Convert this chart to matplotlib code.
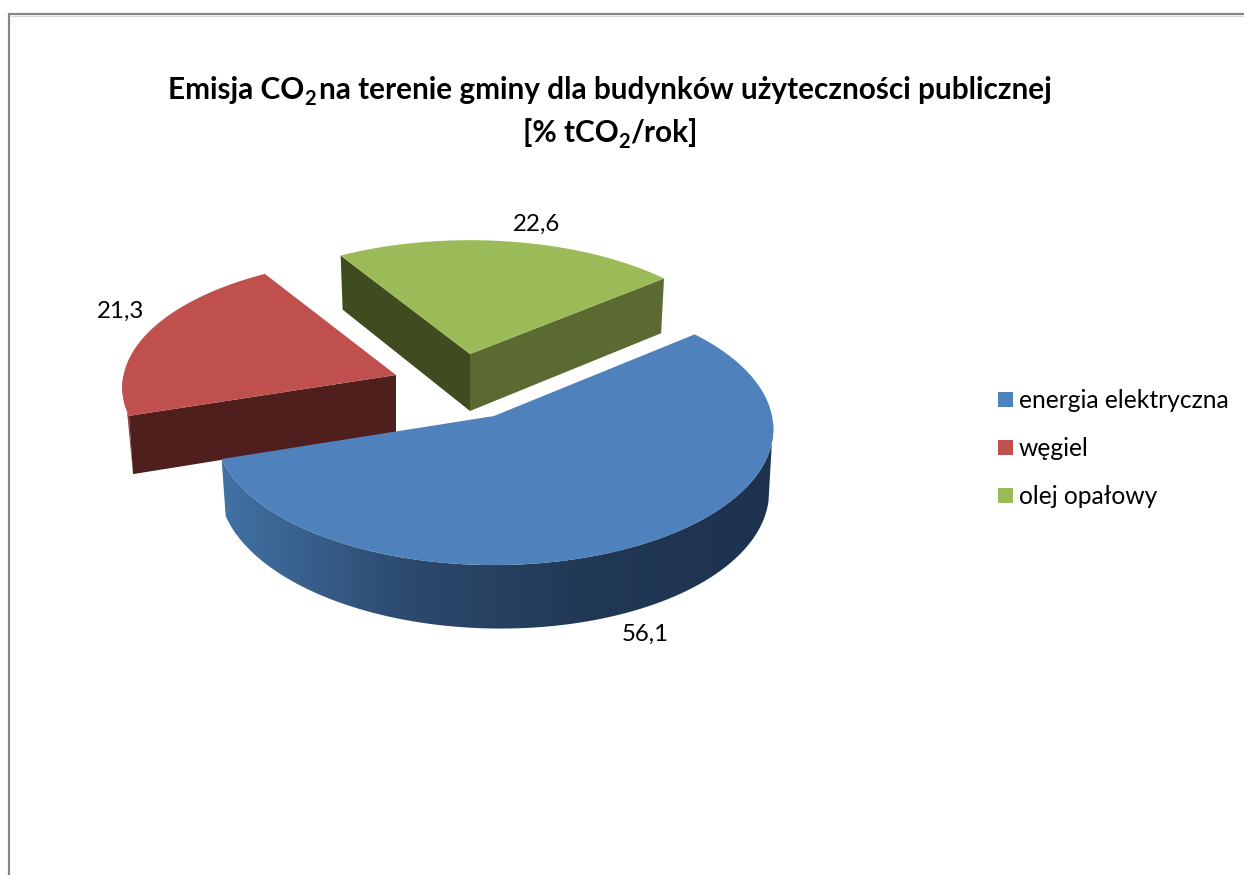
import numpy as np
import matplotlib
matplotlib.use("Agg")
import matplotlib.pyplot as plt
from matplotlib.colors import LinearSegmentedColormap
from matplotlib.patches import Polygon, Rectangle

plt.rcParams['font.family'] = ['Lato', 'DejaVu Sans']

# data
categories = ["energia elektryczna", "węgiel", "olej opałowy"]
values = [56.1, 21.3, 22.6]
value_labels = ["56,1", "21,3", "22,6"]
colors = ["#4f81bd", "#c0504d", "#9bbb59"]

# title runs, second item says subscript or not
title_1 = [("Emisja CO", False), ("2", True), ("na terenie gminy dla budynków użyteczności publicznej", False)]
title_2 = [("[% tCO", False), ("2", True), ("/rok]", False)]

# projection of the pie (pixels)
start_angle = 40
R = 278
S = 134.8
k = 0.0956
apex = [(494, 416), (396, 375), (470, 354)]
scale_x = [1.0, 0.98, 0.967]
scale_y = [1.0, 0.95, 0.925]
depth = [59, 57, 57]
tilt = [0.012, 0, 0]
label_pos = [(645, 634), (121, 311), (537, 224)]


def project(t, i, bottom=False):
    t = np.radians(t)
    w = 1 + k * np.sin(t)
    x = R * scale_x[i] * np.cos(t) / w
    y = -S * scale_y[i] * np.sin(t) / w
    ax0, ay0 = apex[i]
    if bottom:
        return ax0 + x * 0.985, ay0 + depth[i] + y * 1.03 + x * tilt[i]
    return ax0 + x, ay0 + y


def corner(i, bottom=False):
    if bottom:
        return apex[i][0], apex[i][1] + depth[i]
    return apex[i]


def draw_runs(runs, cx, baseline):
    # text with a lowered subscript, centred on cx
    r = fig.canvas.get_renderer()
    items = []
    total = 0
    for txt, sub in runs:
        size = 14.5 if sub else 21.45
        t = ax.text(0, baseline + (6 if sub else 0), txt, ha="left", va="baseline", fontsize=size,
                    fontweight="bold", color="black")
        w = t.get_window_extent(r).width
        if sub and runs[-1][0].startswith("na"):
            w += 3
        items.append((t, w))
        total += w
    x = cx - total / 2
    for t, w in items:
        t.set_x(x)
        x += w


fig = plt.figure(figsize=(12.44, 8.75), dpi=100)
ax = fig.add_axes([0, 0, 1, 1])
ax.set_xlim(0, 1244)
ax.set_ylim(875, 0)
ax.axis("off")

# chart frame, runs off the picture on the right and at the bottom
ax.plot([9, 9, 1244], [875, 14, 14], color="#868686", lw=1.6, solid_joinstyle="miter")
ax.plot([11, 1244], [15.5, 15.5], color="#d9d9d9", lw=0.8)

# angles of the slices, clockwise from the start
sweeps = [v / sum(values) * 360 for v in values]
t0 = start_angle
arcs = []
for sw in sweeps:
    arcs.append(np.linspace(t0, t0 - sw, 200))
    t0 -= sw

# green
t = arcs[2]
x1, y1 = project(t[0], 2)
x2, y2 = project(t[-1], 2)
x1b, y1b = project(t[0], 2, True)
x2b, y2b = project(t[-1], 2, True)
a = corner(2)
ab = corner(2, True)
ax.add_patch(Polygon([a, (x2, y2), (x2b, y2b), ab], fc="#5a6a30", ec="none", zorder=2))
ax.add_patch(Polygon([a, (x1, y1), (x1b, y1b), ab], fc="#3f4c20", ec="none", zorder=2))
ax.add_patch(Polygon([a] + list(zip(*project(t, 2))), fc=colors[2], ec="none", zorder=3))

# red, only a sliver of the outer wall shows at the left
t = arcs[1]
xt, yt = project(t, 1)
xb, yb = project(t, 1, True)
a = corner(1)
ab = corner(1, True)
sliver_x, sliver_y = project(np.linspace(t[0], t[0] - 18, 20), 1)
ax.add_patch(Polygon(list(zip(sliver_x, sliver_y)) + [(xb[0], yb[0])], fc="#8f3d3a", ec="none", zorder=4))
ax.add_patch(Polygon([a, (xt[0], yt[0]), (xb[0], yb[0]), ab], fc="#4f1f1d", ec="none", zorder=5))
ax.add_patch(Polygon([a] + list(zip(xt, yt)), fc=colors[1], ec="none", zorder=6))

# blue, outer wall gets a left to right gradient
t = arcs[0]
xt, yt = project(t, 0)
# the wall goes straight down from the widest point at the right
wt = np.linspace(-3, t[-1], 200)
wb = np.linspace(-9, t[-1], 200)
wxt, wyt = project(wt, 0)
wxb, wyb = project(wb, 0, True)
wall = Polygon(list(zip(wxt, wyt)) + list(zip(wxb[::-1], wyb[::-1])), fc="none", ec="none",
               transform=ax.transData)
ax.add_patch(wall)
cmap = LinearSegmentedColormap.from_list("wall", ["#4272a6", "#2c4a6e", "#213854", "#1d324f"])
grad = np.linspace(0, 1, 256).reshape(1, -1)
im = ax.imshow(grad, extent=[220, 775, 640, 330], aspect="auto", cmap=cmap, zorder=7)
im.set_clip_path(wall)
ax.set_xlim(0, 1244)
ax.set_ylim(875, 0)
ax.add_patch(Polygon([corner(0)] + list(zip(xt, yt)), fc=colors[0], ec="none", zorder=8))

# value labels
for lab, pos in zip(value_labels, label_pos):
    ax.text(pos[0], pos[1], lab, ha="center", va="center", fontsize=17.3, color="black", zorder=9)

# title
draw_runs(title_1, 610, 99)
draw_runs(title_2, 610, 142)

# legend
legend_y = [400, 448, 496]
for name, col, y in zip(categories, colors, legend_y):
    ax.add_patch(Rectangle((998, y - 8), 15, 15, fc=col, ec="none"))
    ax.text(1019, y, name, ha="left", va="center", fontsize=17.7, color="black")

fig.savefig("out.png", dpi=100)
